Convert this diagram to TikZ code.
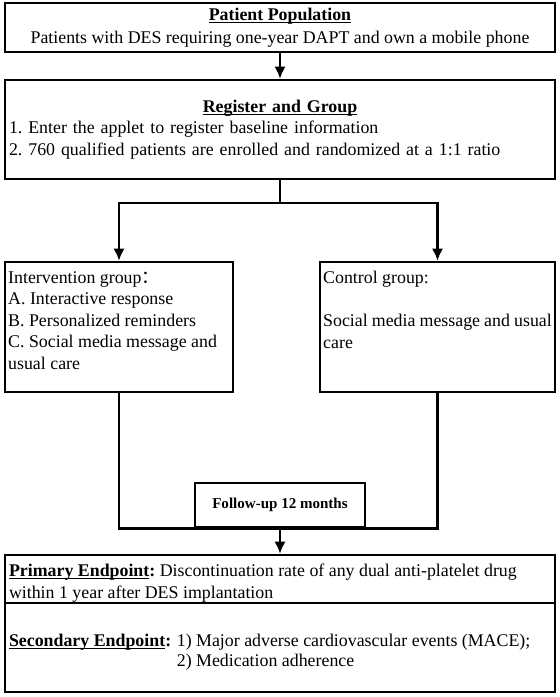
\documentclass[tikz,border=0pt]{standalone}
\usepackage{fontspec}
\setmainfont{Liberation Serif}
\newfontfamily\cjk{Noto Sans CJK SC}
\usetikzlibrary{arrows.meta}
\newcommand\undertext[1]{\setbox0\hbox{#1}\rlap{\rule[-1.7pt]{\wd0}{0.7pt}}\box0}
\frenchspacing

\begin{document}
\begin{tikzpicture}[
  font=\fontsize{12.7}{15.3}\selectfont,
  widebox/.style={rectangle, draw=black, line width=1.8pt, minimum width=13.75cm, inner sep=0.1cm},
  groupbox/.style={rectangle, draw=black, line width=1.8pt, inner sep=0.08cm},
  smallbox/.style={rectangle, draw=black, fill=white, line width=1.8pt, minimum width=4.25cm, minimum height=1.1cm, font=\fontsize{10.7}{12}\selectfont\bfseries},
  connector/.style={line width=2.1pt},
  flow/.style={line width=2.1pt, -{Latex[length=3mm, width=2.8mm]}},
]
\useasboundingbox (0,0) rectangle (14,-17.425);

\node[widebox, minimum height=1.225cm, align=center] (pop) at (7,-0.6875)
  {\textbf{\undertext{Patient Population}}\\[1pt]Patients with DES requiring one-year DAPT and own a mobile phone};

\node[widebox, minimum height=2.475cm, text width=13.55cm, align=left] (reg) at (7,-3.2375)
  {\makebox[\linewidth]{\textbf{\undertext{Register and Group}}}\\
   1. Enter the applet to register baseline information\\
   2. 760 qualified patients are enrolled and randomized at a 1:1 ratio};

\coordinate (split) at (7,-5.075);

\node[groupbox] (inter) at (2.975,-8.175)
  {\parbox[c][3.09cm][t]{5.54cm}{\vspace*{4.3pt}Intervention group{\cjk ：}\\
   A. Interactive response\\
   B. Personalized reminders\\
   C. Social media message and\\
   usual care}};
\node[groupbox] (ctrl) at (10.9375,-8.175)
  {\parbox[c][3.09cm][t]{5.715cm}{\vspace*{4.3pt}Control group:\\[15.3pt]
   Social media message and usual\\
   care}};

\node[smallbox] (follow) at (7,-12.625) {Follow-up 12 months};

\node[widebox] (prim) at (7,-14.475)
  {\parbox[c][1.0cm][t]{13.55cm}{\vspace*{3.5pt}\textbf{\undertext{Primary Endpoint}:} Discontinuation rate of any dual anti-platelet drug\\
   within 1 year after DES implantation}};
\node[widebox] (sec) at (7,-16.1875)
  {\parbox[c][2.025cm][t]{13.55cm}{\vspace*{17.5pt}\begin{tabular}{@{}l@{\hspace{4pt}}l@{}}
   \textbf{\undertext{Secondary Endpoint}:} & 1) Major adverse cardiovascular events (MACE);\\[-1.2pt]
   & 2) Medication adherence
   \end{tabular}}};

\draw[flow] (pop) -- (reg);
\draw[connector] (reg.south) -- (split);
\draw[flow] (split) -| (inter.north);
\draw[flow] (split) -| (ctrl.north);
\draw[connector] (inter.south) |- (follow.south) -| (ctrl.south);
\draw[flow] (follow.south) -- (prim.north);

\end{tikzpicture}
\end{document}
